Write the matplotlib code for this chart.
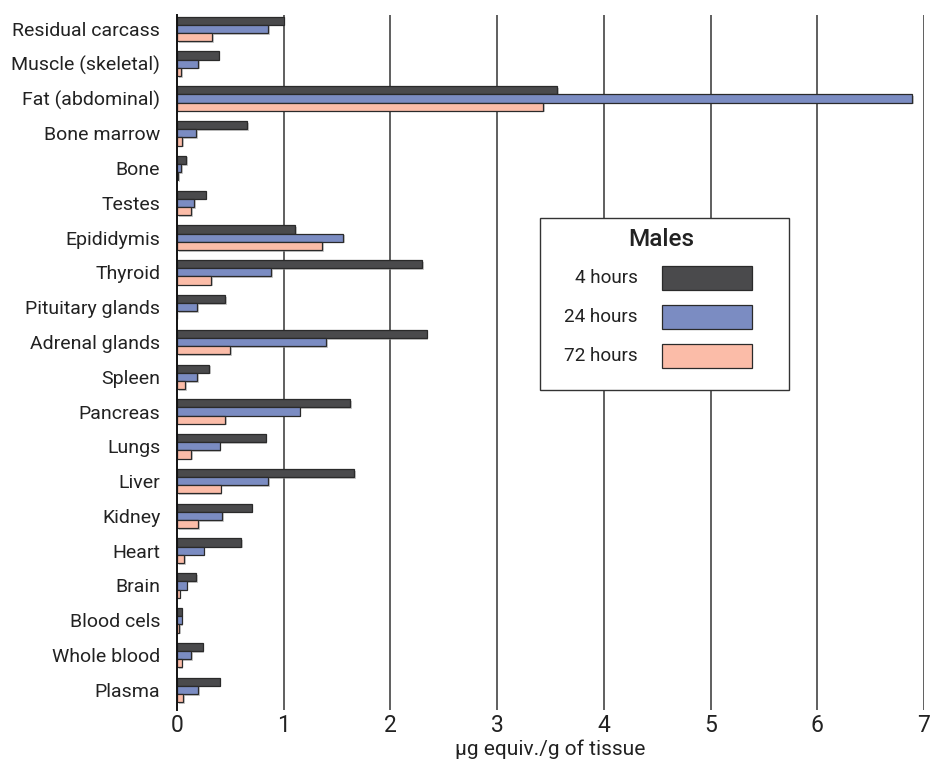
import numpy as np
import matplotlib
matplotlib.use("Agg")
import matplotlib.pyplot as plt
import matplotlib.patheffects as pe
from matplotlib.patches import Rectangle


OUTPUT_FILE = "out.png"

# Tissue distribution, listed bottom to top as drawn
tissues = [
    "Plasma", "Whole blood", "Blood cels", "Brain", "Heart", "Kidney",
    "Liver", "Lungs", "Pancreas", "Spleen", "Adrenal glands",
    "Pituitary glands", "Thyroid", "Epididymis", "Testes", "Bone",
    "Bone marrow", "Fat (abdominal)", "Muscle (skeletal)", "Residual carcass",
]

hours_4 = [0.40, 0.24, 0.044, 0.18, 0.60, 0.70,
           1.66, 0.83, 1.62, 0.30, 2.34,
           0.45, 2.30, 1.11, 0.27, 0.084,
           0.66, 3.56, 0.39, 1.00]
hours_24 = [0.20, 0.13, 0.044, 0.09, 0.25, 0.425,
            0.856, 0.40, 1.15, 0.19, 1.40,
            0.19, 0.884, 1.56, 0.16, 0.04,
            0.18, 6.89, 0.20, 0.853]
hours_72 = [0.06, 0.044, 0.02, 0.025, 0.066, 0.20,
            0.41, 0.13, 0.45, 0.075, 0.50,
            0.0, 0.32, 1.36, 0.13, 0.01,
            0.047, 3.43, 0.04, 0.33]

series_labels = ["4 hours", "24 hours", "72 hours"]
series_colors = ["#4a4a4c", "#7b8cc2", "#fbbca8"]
x_ticks = [0, 1, 2, 3, 4, 5, 6, 7]

plt.rcParams["font.family"] = ["Roboto", "DejaVu Sans"]


def draw():
    fig = plt.figure(figsize=(9.31, 7.63), dpi=100)
    ax = fig.add_axes([177 / 931, 1 - 710 / 763, (924 - 177) / 931, (710 - 15) / 763])

    y = np.arange(len(tissues))
    bar_h = 0.235
    shadow = [pe.SimplePatchShadow(offset=(1.2, -1.2), shadow_rgbFace="0.6", alpha=0.5), pe.Normal()]

    for k, (vals, color) in enumerate(zip([hours_4, hours_24, hours_72], series_colors)):
        bars = ax.barh(y + (1 - k) * bar_h, vals, height=bar_h, color=color,
                       edgecolor="#2a2a2a", linewidth=0.9, zorder=3)
        for b in bars:
            b.set_path_effects(shadow)

    ax.set_xlim(0, 7)
    ax.set_ylim(-0.58, 19.4)
    ax.set_xticks(x_ticks)
    ax.set_yticks(y)
    ax.set_yticklabels(tissues, fontsize=14, color="#222222")
    ax.tick_params(axis="y", length=0, pad=12)
    ax.tick_params(axis="x", length=0, pad=3, labelsize=16.5, labelcolor="#222222")

    for s in ["top", "right", "bottom"]:
        ax.spines[s].set_visible(False)
    ax.spines["left"].set_color("#111111")
    ax.spines["left"].set_linewidth(1.4)
    ax.spines["left"].set_zorder(4)

    for xv in x_ticks[1:]:
        ax.axvline(xv, color="#444444", linewidth=1.2, zorder=1)

    ax.set_xlabel("µg equiv./g of tissue", fontsize=15, color="#222222", labelpad=2)

    # legend box drawn in figure coordinates
    W, H = 931, 763
    fig.patches.append(Rectangle((540 / W, 1 - 390 / H), 249 / W, 172 / H,
                                 transform=fig.transFigure, facecolor="white",
                                 edgecolor="#333333", linewidth=1.0, zorder=5))
    fig.text(661 / W, 1 - 240 / H, "Males", fontsize=17.5, fontweight="medium",
             ha="center", va="center", color="#222222", zorder=6)
    for i, (lab, color) in enumerate(zip(series_labels, series_colors)):
        yc = 278 + 39 * i
        fig.text(638 / W, 1 - yc / H, lab, fontsize=13.6, ha="right", va="center",
                 color="#222222", zorder=6)
        fig.patches.append(Rectangle((662 / W, 1 - (yc + 12) / H), 90 / W, 24 / H,
                                     transform=fig.transFigure, facecolor=color,
                                     edgecolor="#2a2a2a", linewidth=0.9, zorder=6))

    fig.savefig(OUTPUT_FILE, dpi=100)
    plt.close(fig)


if __name__ == "__main__":
    draw()
